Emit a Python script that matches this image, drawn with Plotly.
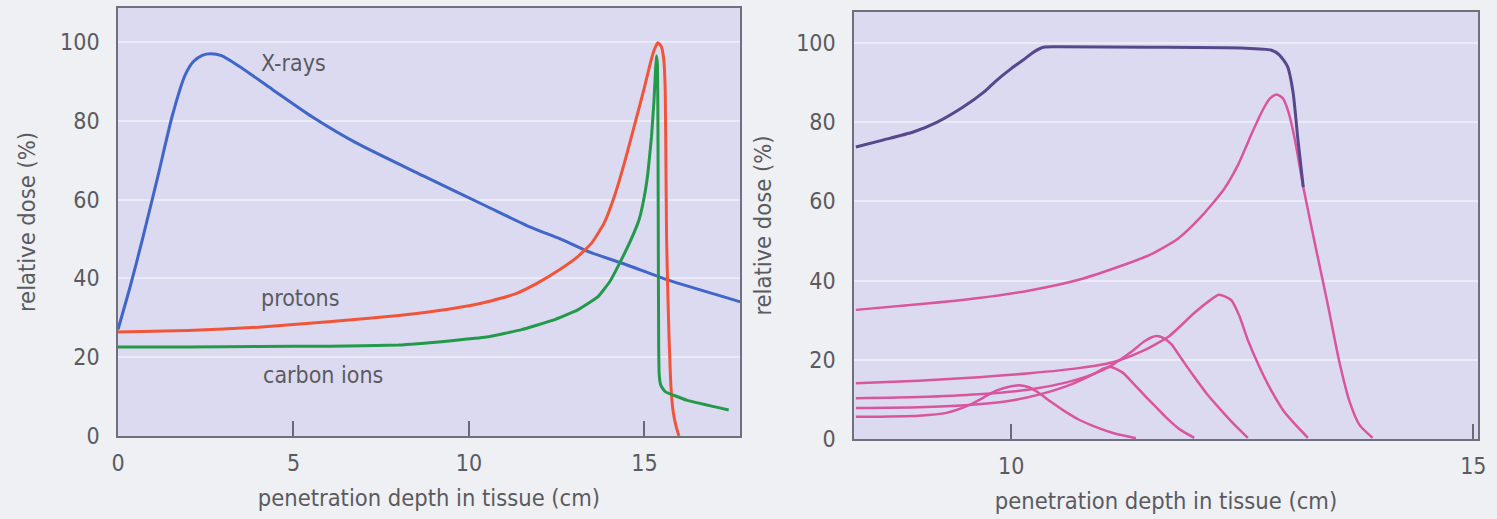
import plotly.graph_objects as go

# ---------------- data ----------------
# Left panel: depth-dose curves
xray_x = [0, 0.35, 0.7, 1.14, 1.54, 1.91, 2.15, 2.4, 2.65, 2.95, 3.42, 4.39, 5.53, 6.76, 8.7, 10.5, 11.75, 12.6, 13.4, 14.5, 15.66, 17.75]
xray_y = [27, 38, 50, 66, 81, 91.5, 95, 96.6, 97, 96.5, 94, 88, 81, 74.5, 66, 58.3, 53, 50, 46.8, 43.4, 39.6, 34]

proton_x = [0, 2, 4, 6, 8, 9.5, 10.5, 11.3, 11.95, 12.6, 13.1, 13.5, 13.85, 14.15, 14.45, 14.75, 15.0, 15.15, 15.27,
            15.38, 15.48, 15.55, 15.59, 15.61, 15.63, 15.66, 15.7, 15.75, 15.82, 15.9, 15.98]
proton_y = [26.4, 26.8, 27.6, 29, 30.6, 32.3, 34, 36, 38.8, 42.3, 45.5, 49, 54, 61, 70, 80, 88.5, 94, 97.8,
            99.8, 98.8, 95.5, 88, 70, 50, 38, 25, 13, 6, 2.5, 0]

carbon_x = [0, 2, 4, 6, 8, 9.5, 10.5, 11.5, 12.4, 13.1, 13.67, 14.0, 14.3, 14.6, 14.85, 15.0, 15.1, 15.2, 15.27, 15.31,
            15.34, 15.37, 15.385, 15.395, 15.405, 15.42, 15.46, 15.52, 15.6, 16.2, 17.4]
carbon_y = [22.6, 22.6, 22.7, 22.8, 23.1, 24.2, 25.1, 27, 29.4, 32, 35.3, 39, 44, 49.5, 55, 61, 67, 76, 85, 92,
            96.5, 94, 75, 45, 22, 15.5, 13, 12, 11.2, 9.1, 6.6]

# Right panel: spread-out Bragg peak and its component peaks
sobp_x = [8.32, 8.6, 8.94, 9.2, 9.48, 9.7, 9.84, 10.0, 10.13, 10.25, 10.35, 10.5, 11.5, 12.5, 12.81, 12.9, 12.99, 13.05, 13.1, 13.16]
sobp_y = [73.7, 75.4, 77.5, 80, 83.8, 87.5, 90.5, 93.5, 95.7, 97.8, 98.9, 99, 98.9, 98.7, 98.2, 97, 94, 87.4, 76, 63.6]

peak1_x = [8.32, 9.0, 9.65, 10.2, 10.73, 11.2, 11.5, 11.8, 12.05, 12.3, 12.45, 12.6, 12.72, 12.8, 12.87, 12.94, 13.0,
           13.07, 13.16, 13.28, 13.42, 13.55, 13.66, 13.77, 13.91]
peak1_y = [32.6, 34, 35.6, 37.5, 40.2, 43.8, 46.5, 50.5, 56, 63, 69, 77, 83, 86, 87, 86, 82.5,
           75.5, 63.6, 50, 34.5, 19.5, 9.5, 3.5, 0.3]

peak2_x = [8.32, 9.0, 9.65, 10.2, 10.73, 11.1, 11.4, 11.7, 11.98, 12.15, 12.25, 12.38, 12.47, 12.56, 12.68, 12.81, 12.95, 13.06, 13.21]
peak2_y = [14.1, 14.7, 15.6, 16.6, 17.9, 19.4, 22, 25.8, 31.8, 35, 36.4, 35.1, 31, 25, 18.5, 12.4, 7, 4, 0.3]

peak3_x = [8.32, 9.0, 9.65, 10.2, 10.6, 10.9, 11.1, 11.3, 11.45, 11.57, 11.65, 11.73, 11.85, 11.98, 12.12, 12.27, 12.42, 12.56]
peak3_y = [10.3, 10.6, 11.3, 12.5, 14.3, 16.5, 18.8, 22, 24.8, 26, 25.5, 24, 20, 15.7, 11.3, 7.3, 3.5, 0.3]

peak4_x = [8.32, 9.0, 9.5, 9.97, 10.3, 10.65, 10.9, 11.0, 11.08, 11.21, 11.33, 11.46, 11.57, 11.67, 11.82, 11.98]
peak4_y = [7.8, 8.0, 8.5, 9.6, 11.2, 13.8, 16.5, 17.8, 18.2, 16.7, 13.8, 10.6, 8, 5.6, 2.5, 0.3]

peak5_x = [8.32, 9.0, 9.3, 9.55, 9.84, 10.0, 10.09, 10.2, 10.3, 10.43, 10.56, 10.74, 10.92, 11.12, 11.35]
peak5_y = [5.6, 5.9, 6.6, 8.6, 12.2, 13.3, 13.6, 13.0, 11.6, 9.4, 7.3, 4.8, 3.0, 1.4, 0.2]

left_xticks = [0, 5, 10, 15]
right_xticks = [10, 15]
yticks = [0, 20, 40, 60, 80, 100]

labels = ["X-rays", "protons", "carbon ions"]
label_x = [5.0, 5.2, 5.85]
label_y = [94.7, 35, 15.5]

x_title = "penetration depth in tissue (cm)"
y_title = "relative dose (%)"

# ---------------- styles ----------------
FONT = "DejaVu Sans Condensed, Liberation Sans Narrow, sans-serif"
TXT = "#5a5a60"
PLOT_BG = "#dcdaf0"
PAGE_BG = "#eef0f4"
GRID = "#ebeaf7"
FRAME = "#70707c"
BLUE = "#3f66c8"
RED = "#f0553a"
GREEN = "#23994a"
DARK = "#56488a"
PINK = "#d9559e"

fig = go.Figure()

fig.add_trace(go.Scatter(x=xray_x, y=xray_y, mode="lines", line=dict(color=BLUE, width=3, shape="spline", smoothing=0.6),
                         xaxis="x", yaxis="y", hoverinfo="skip"))
fig.add_trace(go.Scatter(x=proton_x, y=proton_y, mode="lines", line=dict(color=RED, width=3, shape="spline", smoothing=0.4),
                         xaxis="x", yaxis="y", hoverinfo="skip"))
fig.add_trace(go.Scatter(x=carbon_x, y=carbon_y, mode="lines", line=dict(color=GREEN, width=3, shape="spline", smoothing=0.3),
                         xaxis="x", yaxis="y", hoverinfo="skip"))

for px, py in [(peak5_x, peak5_y), (peak4_x, peak4_y), (peak3_x, peak3_y), (peak2_x, peak2_y), (peak1_x, peak1_y)]:
    fig.add_trace(go.Scatter(x=px, y=py, mode="lines", line=dict(color=PINK, width=2.5, shape="spline", smoothing=0.6),
                             xaxis="x2", yaxis="y2", hoverinfo="skip"))
fig.add_trace(go.Scatter(x=sobp_x, y=sobp_y, mode="lines", line=dict(color=DARK, width=3, shape="spline", smoothing=0.6),
                         xaxis="x2", yaxis="y2", hoverinfo="skip"))

for t, lx, ly in zip(labels, label_x, label_y):
    fig.add_annotation(x=lx, y=ly, xref="x", yref="y", text=t, showarrow=False,
                       font=dict(family=FONT, size=23, color=TXT))

xaxis_common = dict(
    showgrid=False, zeroline=False, showline=True, mirror=True, linecolor=FRAME, linewidth=1.5,
    ticks="inside", ticklen=15, tickwidth=2, tickcolor="#6a6a76", ticklabelstandoff=6,
    tickfont=dict(family=FONT, size=23, color=TXT), automargin=False,
    title=dict(text=x_title, font=dict(family=FONT, size=23.5, color=TXT), standoff=14),
)
yaxis_common = dict(
    showgrid=True, gridcolor=GRID, gridwidth=1.5, zeroline=False, showline=True, mirror=True,
    linecolor=FRAME, linewidth=1.5, ticks="", tickvals=yticks, ticklabelstandoff=12,
    tickfont=dict(family=FONT, size=23, color=TXT), automargin=False,
    title=dict(text=y_title, font=dict(family=FONT, size=23.5, color=TXT), standoff=18),
)

fig.update_layout(
    width=1497, height=519,
    margin=dict(l=0, r=0, t=0, b=0),
    paper_bgcolor=PAGE_BG, plot_bgcolor=PLOT_BG,
    showlegend=False,
    xaxis=dict(xaxis_common, domain=[0.0788, 0.4943], range=[0, 17.72], tickvals=left_xticks, anchor="y"),
    yaxis=dict(yaxis_common, domain=[0.1599, 0.9846], range=[0, 108.6], anchor="x"),
    xaxis2=dict(xaxis_common, domain=[0.5705, 0.9873], range=[8.3, 15.05], tickvals=right_xticks, anchor="y2"),
    yaxis2=dict(yaxis_common, domain=[0.1541, 0.9769], range=[0, 107.8], anchor="x2"),
)

fig.write_html(
    "out.html",
    config={"displayModeBar": False},
    post_script="document.body.style.margin='0';document.body.style.background='" + PAGE_BG + "';",
)
